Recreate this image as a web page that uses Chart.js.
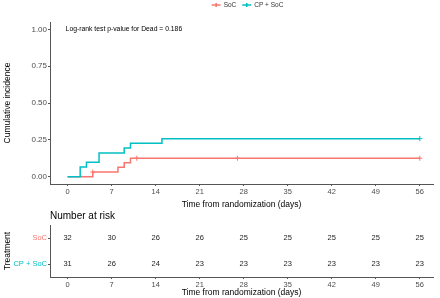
<!DOCTYPE html>
<html>
<head>
<meta charset="utf-8">
<script src="https://cdn.jsdelivr.net/npm/chart.js@4/dist/chart.umd.min.js"></script>
<style>
  html, body { margin: 0; padding: 0; background: #fff; }
  #wrap { position: relative; width: 440px; height: 298px; }
  #incidence { position: absolute; left: 0; top: 0; }
  #risk { position: absolute; left: 0; top: 210px; }
</style>
</head>
<body>
<div id="wrap">
  <canvas id="incidence" width="440" height="210"></canvas>
  <canvas id="risk" width="440" height="88"></canvas>
</div>
<script>
const groups = ['SoC', 'CP + SoC'];
const groupColors = ['#F8766D', '#00BFC4'];

// step curves (value holds from that day onward)
const socTimes = [0, 4, 8, 9, 10, 56];
const socIncidence = [0, 0.031, 0.063, 0.094, 0.125, 0.125];
const socCensorTimes = [4, 11, 27, 56];
const socCensorIncidence = [0.031, 0.125, 0.125, 0.125];

const cpTimes = [0, 2, 3, 5, 9, 10, 15, 56];
const cpIncidence = [0, 0.065, 0.097, 0.161, 0.194, 0.226, 0.258, 0.258];
const cpCensorTimes = [56];
const cpCensorIncidence = [0.258];

const dayTicks = [0, 7, 14, 21, 28, 35, 42, 49, 56];
const incidenceTicks = [0, 0.25, 0.5, 0.75, 1];

const riskSoC = [32, 30, 26, 26, 25, 25, 25, 25, 25];
const riskCP = [31, 26, 24, 23, 23, 23, 23, 23, 23];

const pValueNote = 'Log-rank test p-value for Dead = 0.186';

const FONT = "'Liberation Sans', Arial, sans-serif";
const toPoints = (xs, ys) => xs.map((x, i) => ({ x: x, y: ys[i] }));

const dayAxis = (height, showTitle) => ({
    type: 'linear',
    min: -2.8,
    max: 58.1,
    afterBuildTicks: s => { s.ticks = dayTicks.map(v => ({ value: v })); },
    afterFit: s => { s.height = height; },
    border: { display: true, color: '#555', width: 1 },
    grid: { display: true, drawOnChartArea: false, drawTicks: true, tickLength: 2, color: '#555' },
    ticks: { color: '#4d4d4d', font: { family: FONT, size: 7.5 }, padding: 1, maxRotation: 0 },
    title: { display: showTitle, text: 'Time from randomization (days)', color: '#000',
             font: { family: FONT, size: 8.5 }, padding: { top: 0, bottom: 0 } }
});

const legendPlugin = {
    id: 'topLegend',
    afterDraw(chart) {
        const ctx = chart.ctx;
        const a = chart.chartArea;
        ctx.save();
        ctx.font = '6.5px ' + FONT;
        ctx.textBaseline = 'middle';
        const widths = groups.map(g => 9 + 3 + ctx.measureText(g).width);
        const total = widths.reduce((s, w) => s + w, 0) + 6;
        let x = (a.left + a.right) / 2 + 6 - total / 2;
        const y = 5;
        groups.forEach((g, i) => {
            ctx.strokeStyle = groupColors[i];
            ctx.lineWidth = 1.5;
            ctx.beginPath();
            ctx.moveTo(x, y); ctx.lineTo(x + 9, y);
            ctx.moveTo(x + 4.5, y - 2); ctx.lineTo(x + 4.5, y + 2);
            ctx.stroke();
            ctx.fillStyle = '#333';
            ctx.textAlign = 'left';
            ctx.fillText(g, x + 12, y);
            x += widths[i] + 6;
        });
        ctx.restore();
    }
};

const notePlugin = {
    id: 'pValueNote',
    afterDraw(chart) {
        const ctx = chart.ctx;
        const xs = chart.scales.x, ys = chart.scales.y;
        ctx.save();
        ctx.font = '6.8px ' + FONT;
        ctx.fillStyle = '#000';
        ctx.textAlign = 'left';
        ctx.textBaseline = 'middle';
        ctx.fillText(pValueNote, xs.getPixelForValue(0) - 2, ys.getPixelForValue(1));
        ctx.restore();
    }
};

new Chart(document.getElementById('incidence'), {
    type: 'scatter',
    data: {
        datasets: [
            { label: groups[1], data: toPoints(cpTimes, cpIncidence), showLine: true, stepped: 'before',
              borderColor: groupColors[1], borderWidth: 1.5, pointRadius: 0 },
            { label: groups[0], data: toPoints(socTimes, socIncidence), showLine: true, stepped: 'before',
              borderColor: groupColors[0], borderWidth: 1.5, pointRadius: 0 },
            { label: 'cp censor', data: toPoints(cpCensorTimes, cpCensorIncidence), showLine: false,
              pointStyle: 'cross', pointRadius: 2.5, borderColor: groupColors[1], borderWidth: 1 },
            { label: 'soc censor', data: toPoints(socCensorTimes, socCensorIncidence), showLine: false,
              pointStyle: 'cross', pointRadius: 2.5, borderColor: groupColors[0], borderWidth: 1 }
        ]
    },
    options: {
        responsive: false,
        animation: false,
        layout: { padding: { top: 22, right: 7, left: 0, bottom: 0 } },
        plugins: { legend: { display: false }, tooltip: { enabled: false } },
        scales: {
            x: dayAxis(26, true),
            y: {
                type: 'linear',
                min: -0.05,
                max: 1.05,
                afterBuildTicks: s => { s.ticks = incidenceTicks.map(v => ({ value: v })); },
                afterFit: s => { s.width = 50; },
                border: { display: true, color: '#555', width: 1 },
                grid: { display: true, drawOnChartArea: false, drawTicks: true, tickLength: 2, color: '#555' },
                ticks: { color: '#4d4d4d', font: { family: FONT, size: 8 }, padding: 1,
                         callback: v => v.toFixed(2) },
                title: { display: true, text: 'Cumulative incidence', color: '#000',
                         font: { family: FONT, size: 8.5 }, padding: { top: 3, bottom: 0 } }
            }
        }
    },
    plugins: [legendPlugin, notePlugin]
});

const riskPlugin = {
    id: 'riskNumbers',
    afterDatasetsDraw(chart) {
        const ctx = chart.ctx;
        ctx.save();
        ctx.font = '7.5px ' + FONT;
        ctx.fillStyle = '#222';
        ctx.textAlign = 'center';
        ctx.textBaseline = 'middle';
        chart.data.datasets.forEach((ds, i) => {
            chart.getDatasetMeta(i).data.forEach((pt, j) => {
                ctx.fillText(String(ds.counts[j]), pt.x, pt.y);
            });
        });
        ctx.font = '10px ' + FONT;
        ctx.fillStyle = '#000';
        ctx.textAlign = 'left';
        ctx.fillText('Number at risk', chart.chartArea.left, chart.chartArea.top - 9);
        ctx.restore();
    }
};

new Chart(document.getElementById('risk'), {
    type: 'scatter',
    data: {
        datasets: [
            { label: groups[0], data: dayTicks.map(d => ({ x: d, y: groups[0] })), counts: riskSoC, pointRadius: 0 },
            { label: groups[1], data: dayTicks.map(d => ({ x: d, y: groups[1] })), counts: riskCP, pointRadius: 0 }
        ]
    },
    options: {
        responsive: false,
        animation: false,
        layout: { padding: { top: 15, right: 7, left: 0, bottom: 0 } },
        plugins: { legend: { display: false }, tooltip: { enabled: false } },
        scales: {
            x: dayAxis(21, true),
            y: {
                type: 'category',
                labels: groups,
                offset: true,
                afterFit: s => { s.width = 50; },
                border: { display: true, color: '#555', width: 1 },
                grid: { display: true, drawOnChartArea: false, drawTicks: true, tickLength: 2, color: '#555', offset: false },
                ticks: { color: c => groupColors[c.index], font: { family: FONT, size: 7.5 }, padding: 1 },
                title: { display: true, text: 'Treatment', color: '#000',
                         font: { family: FONT, size: 8.5 }, padding: { top: 3, bottom: 0 } }
            }
        }
    },
    plugins: [riskPlugin]
});
</script>
</body>
</html>
